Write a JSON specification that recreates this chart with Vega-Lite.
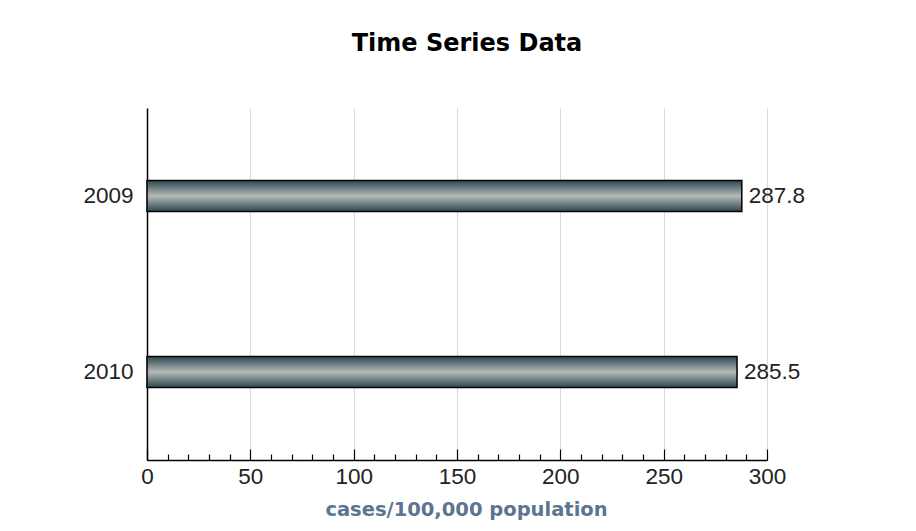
{
  "$schema": "https://vega.github.io/schema/vega-lite/v6.json",
  "width": 620,
  "height": 352,
  "autosize": "none",
  "padding": {"left": 147, "top": 108, "right": 149, "bottom": 71},
  "background": "white",
  "config": {"view": {"stroke": null}, "font": "Liberation Sans"},
  "title": {
    "text": "Time Series Data",
    "font": "DejaVu Sans",
    "fontSize": 24,
    "fontWeight": "bold",
    "color": "#000000",
    "anchor": "middle",
    "dx": 10,
    "offset": 52
  },
  "data": {
    "values": [
      {"year": "2009", "value": 287.8},
      {"year": "2010", "value": 285.5}
    ]
  },
  "encoding": {
    "y": {
      "field": "year",
      "type": "nominal",
      "sort": ["2009", "2010"],
      "title": null,
      "scale": {"paddingInner": 0, "paddingOuter": 0},
      "axis": {
        "ticks": false,
        "domainColor": "#000000",
        "domainWidth": 1.5,
        "labelFontSize": 22.5,
        "labelColor": "#222222",
        "labelPadding": 14,
        "labelFont": "Liberation Sans"
      }
    },
    "x": {
      "field": "value",
      "type": "quantitative",
      "title": "cases/100,000 population",
      "scale": {"domain": [0, 300], "nice": false},
      "axis": {
        "values": [0,10,20,30,40,50,60,70,80,90,100,110,120,130,140,150,160,170,180,190,200,210,220,230,240,250,260,270,280,290,300],
        "labelExpr": "datum.value % 50 === 0 ? datum.label : ''",
        "labelFontSize": 22.5,
        "labelColor": "#222222",
        "labelFont": "Liberation Sans",
        "labelPadding": 16,
        "labelFlush": false,
        "labelOverlap": false,
        "domainColor": "#000000",
        "domainWidth": 1.5,
        "tickColor": "#000000",
        "tickWidth": 1.2,
        "tickSize": {"condition": {"test": "datum.value % 50 === 0", "value": -11}, "value": -6},
        "grid": true,
        "gridColor": "#d9d9d9",
        "gridWidth": 1,
        "gridOpacity": {"condition": {"test": "datum.value % 50 === 0", "value": 1}, "value": 0},
        "titleFont": "DejaVu Sans",
        "titleFontSize": 19.5,
        "titleFontWeight": "bold",
        "titleColor": "#5b7590",
        "titlePadding": 8,
        "titleX": 319
      }
    }
  },
  "layer": [
    {
      "mark": {
        "type": "bar",
        "size": 31,
        "stroke": "#000000",
        "strokeWidth": 1.5,
        "color": {
          "gradient": "linear",
          "x1": 0, "y1": 0, "x2": 0, "y2": 1,
          "stops": [
            {"offset": 0, "color": "#2e4850"},
            {"offset": 0.5, "color": "#b5b9b9"},
            {"offset": 1, "color": "#2e4850"}
          ]
        }
      }
    },
    {
      "mark": {
        "type": "text",
        "align": "left",
        "baseline": "middle",
        "dx": 7,
        "fontSize": 22.5,
        "font": "Liberation Sans",
        "color": "#222222"
      },
      "encoding": {"text": {"field": "value", "type": "quantitative", "format": ".1f"}}
    }
  ]
}
